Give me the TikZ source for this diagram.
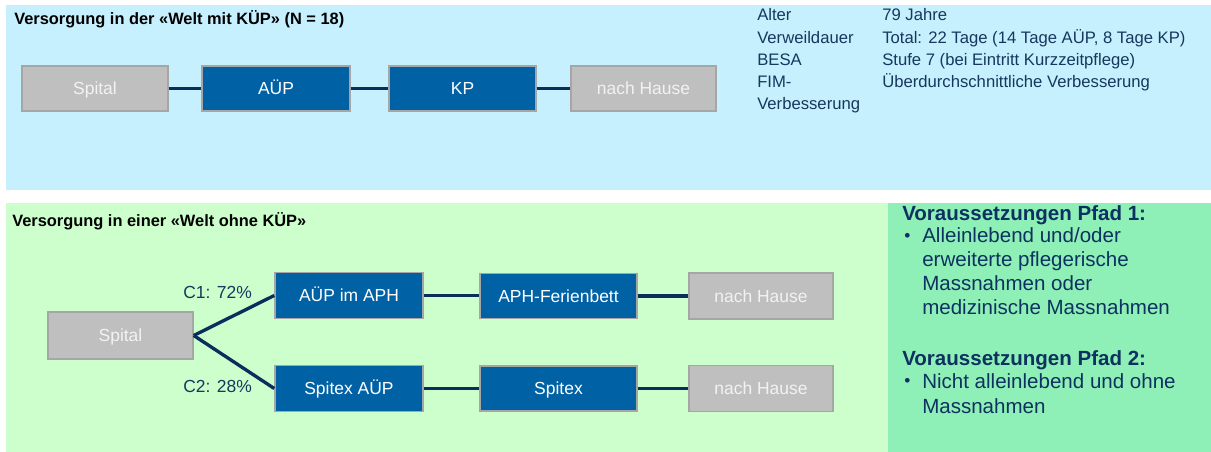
\documentclass[tikz,border=0pt]{standalone}
\usepackage{fontspec}
\setmainfont{Liberation Sans}
\definecolor{topbg}{HTML}{C6F0FE}
\definecolor{lightgreen}{HTML}{CCFFCC}
\definecolor{rightgreen}{HTML}{8EF0B6}
\definecolor{boxblue}{HTML}{0062A5}
\definecolor{boxgray}{HTML}{BFBFBF}
\definecolor{boxline}{HTML}{A6A6A6}
\definecolor{graytext}{HTML}{F2F2F2}
\definecolor{linkcol}{HTML}{0A2E5C}
\definecolor{infocol}{HTML}{17375E}
\definecolor{condcol}{HTML}{0D3160}
\begin{document}
\begin{tikzpicture}[x=0.75pt,y=-0.75pt,
  every node/.style={font=\fontsize{13.1pt}{15.7pt}\selectfont},
  stepbox/.style={draw=boxline, line width=1.1pt, inner sep=0pt, text=white,
    text height=11pt, text depth=1.6pt},
  bluebox/.style={stepbox, fill=boxblue},
  graybox/.style={stepbox, fill=boxgray, text=graytext},
  link/.style={draw=linkcol, line width=2.5pt},
  paneltitle/.style={anchor=base west, inner sep=0pt, font=\bfseries\fontsize{12.3pt}{14.6pt}\selectfont},
  info/.style={anchor=base west, inner sep=0pt, text=infocol, font=\fontsize{12.5pt}{14.6pt}\selectfont},
  share/.style={anchor=base west, inner sep=0pt, text=infocol},
  cond/.style={anchor=base west, inner sep=0pt, text=condcol, font=\fontsize{15.4pt}{18.5pt}\selectfont},
  condhead/.style={cond, font=\bfseries\fontsize{15.4pt}{18.5pt}\selectfont},
  dot/.style={anchor=base west, inner sep=0pt, text=condcol, font=\fontsize{13pt}{15pt}\selectfont},
]
\useasboundingbox (0,0) rectangle (1211,452);

% panels
\fill[topbg] (6,5) rectangle (1211,190);
\fill[lightgreen] (6,203) rectangle (888,452);
\fill[rightgreen] (888,203) rectangle (1211,452);

% ---- world with KÜP ----
\node[paneltitle] (t1) at (14,25) {Versorgung in der «Welt mit KÜP» (N = 18)};

\node[graybox, minimum width=109.5pt, minimum height=33.75pt] (a1) at (95,88.5) {Spital};
\node[bluebox, minimum width=111pt, minimum height=33.75pt] (a2) at (276,88.5) {AÜP};
\node[bluebox, minimum width=110.25pt, minimum height=33.75pt] (a3) at (462.5,88.5) {KP};
\node[graybox, minimum width=108.75pt, minimum height=33.75pt] (a4) at (643.5,88.5) {nach Hause};
\draw[link] (a1) -- (a2);
\draw[link] (a2) -- (a3);
\draw[link] (a3) -- (a4);

\node[info] (k1) at (757,20.7) {Alter};
\node[info] (k2) at (757,43.3) {Verweildauer};
\node[info] (k3) at (757,65.7) {BESA};
\node[info] (k4) at (757,87.3) {FIM-};
\node[info] (k5) at (757,109.3) {Verbesserung};
\node[info] (v1) at (882,20.7) {79 Jahre};
\node[info] (v2) at (882,43.3) {Total: 22 Tage (14 Tage AÜP, 8 Tage KP)};
\node[info] (v3) at (882,65.7) {Stufe 7 (bei Eintritt Kurzzeitpflege)};
\node[info] (v4) at (882,87.3) {Überdurchschnittliche Verbesserung};

% ---- world without KÜP ----
\node[paneltitle] (t2) at (12,226.7) {Versorgung in einer «Welt ohne KÜP»};

\node[graybox, minimum width=108.75pt, minimum height=35.25pt] (b0) at (120.5,335.5) {Spital};
\node[bluebox, minimum width=111pt, minimum height=34.5pt] (b1) at (349,295.5) {AÜP im APH};
\node[bluebox, minimum width=117.75pt, minimum height=33.75pt] (b2) at (558.5,296) {APH-Ferienbett};
\node[graybox, minimum width=108pt, minimum height=34.5pt] (b3) at (761,296) {nach Hause};
\node[bluebox, minimum width=111pt, minimum height=34.5pt] (c1) at (349,388.5) {Spitex AÜP};
\node[bluebox, minimum width=117.75pt, minimum height=33.75pt] (c2) at (558.5,388.5) {Spitex};
\node[graybox, minimum width=108pt, minimum height=34.5pt] (c3) at (761,388.5) {nach Hause};

\draw[link] (b0.east) -- (b1.west);
\draw[link] (b0.east) -- (c1.west);
\draw[link] (b1.east) -- (b2.west |- b1.east);
\draw[link] (b2) -- (b3);
\draw[link] (c1) -- (c2);
\draw[link] (c2) -- (c3);

\node[share] (p1) at (183,299) {C1: 72\%};
\node[share] (p2) at (183,392.7) {C2: 28\%};

% ---- conditions ----
\node[condhead] (h1) at (902,220.7) {Voraussetzungen Pfad 1:};
\node[dot] (d1) at (904,241.5) {•};
\node[cond] (l1) at (922,242.5) {Alleinlebend und/oder};
\node[cond] (l2) at (922,266.7) {erweiterte pflegerische};
\node[cond] (l3) at (922,290.7) {Massnahmen oder};
\node[cond] (l4) at (922,315) {medizinische Massnahmen};
\node[condhead] (h2) at (902,365.7) {Voraussetzungen Pfad 2:};
\node[dot] (d2) at (904,387) {•};
\node[cond] (m1) at (922,388) {Nicht alleinlebend und ohne};
\node[cond] (m2) at (922,413) {Massnahmen};
\end{tikzpicture}
\end{document}
